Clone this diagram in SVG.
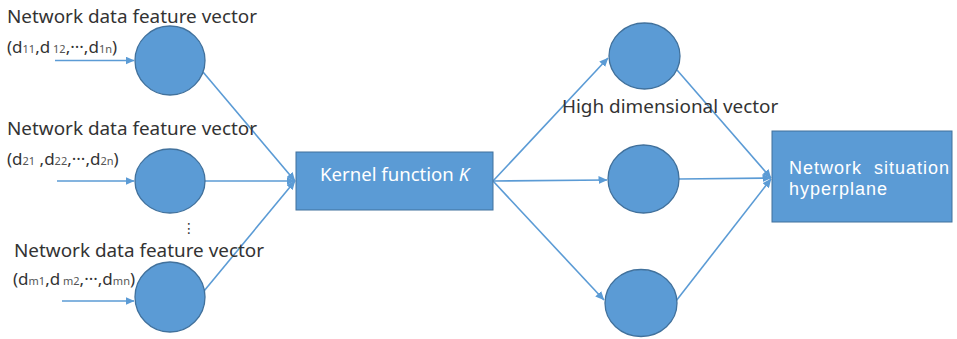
<svg xmlns="http://www.w3.org/2000/svg" width="957" height="339" viewBox="0 0 957 339">
<style>
.node{fill:#5B9BD5;stroke:#41719C;stroke-width:1.3}
.box{fill:#5B9BD5;stroke:#41719C;stroke-width:1}
.lbl{font-family:"Noto Sans","Liberation Sans",sans-serif;font-size:18.9px;fill:#333}
.sub{font-family:"Noto Sans","Liberation Sans",sans-serif;font-size:17px;fill:#333}
.s{font-size:11px;fill:#555}
.wt{font-family:"Noto Sans","Liberation Sans",sans-serif;font-size:18.6px;fill:#fff}
.wt2{font-family:"Liberation Sans",Arial,sans-serif;font-size:18px;letter-spacing:1px;fill:#fff}
.edge{stroke:#5B9BD5;stroke-width:1.6;fill:none;marker-end:url(#ah)}
</style>
<defs>
<marker id="ah" markerWidth="9" markerHeight="8" refX="8.5" refY="4" orient="auto" markerUnits="userSpaceOnUse">
<path d="M0,0 L9,4 L0,8 Z" fill="#5B9BD5"/>
</marker>
</defs>
<rect width="957" height="339" fill="#fff"/>
<g id="connectors">
<line class="edge" x1="55" y1="60.5" x2="134" y2="60.5"/>
<line class="edge" x1="57" y1="181" x2="134" y2="181"/>
<line class="edge" x1="62" y1="301" x2="134" y2="301"/>
<line class="edge" x1="203" y1="72" x2="295" y2="181"/>
<line class="edge" x1="205" y1="181" x2="295" y2="181"/>
<line class="edge" x1="204" y1="291" x2="295" y2="181"/>
<line class="edge" x1="493" y1="181" x2="608" y2="58"/>
<line class="edge" x1="493" y1="181" x2="607" y2="180"/>
<line class="edge" x1="493" y1="181" x2="604" y2="300"/>
<line class="edge" x1="677" y1="70" x2="771" y2="178"/>
<line class="edge" x1="679" y1="179" x2="771" y2="178"/>
<line class="edge" x1="676" y1="301" x2="771" y2="179"/>
</g>
<g id="in1"><ellipse class="node" cx="170" cy="60.5" rx="35" ry="34.5"/></g>
<g id="in2"><ellipse class="node" cx="170" cy="181" rx="35" ry="32"/></g>
<g id="in3"><ellipse class="node" cx="170" cy="297" rx="35" ry="35"/></g>
<g id="kernel">
<rect class="box" x="296" y="152" width="197" height="58"/>
<text class="wt" x="320" y="181">Kernel function <tspan font-style="italic">K</tspan></text>
</g>
<g id="hd1"><ellipse class="node" cx="644.5" cy="56" rx="35.5" ry="33"/></g>
<g id="hd2"><ellipse class="node" cx="643.5" cy="179" rx="35.5" ry="34"/></g>
<g id="hd3"><ellipse class="node" cx="641" cy="303" rx="36" ry="33.5"/></g>
<g id="hyperplane">
<rect class="box" x="772" y="131" width="180" height="91"/>
<text class="wt2" x="789" y="174" xml:space="preserve">Network  situation</text>
<text class="wt2" x="789" y="195">hyperplane</text>
</g>
<g id="labels">
<text class="lbl" x="7" y="23">Network data feature vector</text>
<text class="sub" x="7" y="53">(d<tspan class="s">11</tspan>,d<tspan class="s"> 12</tspan>,···,d<tspan class="s">1n</tspan>)</text>
<text class="lbl" x="7" y="135">Network data feature vector</text>
<text class="sub" x="7" y="165">(d<tspan class="s">21</tspan> ,d<tspan class="s">22</tspan>,···,d<tspan class="s">2n</tspan>)</text>
<text class="lbl" x="14" y="257">Network data feature vector</text>
<text class="sub" x="13" y="285">(d<tspan class="s">m1</tspan>,d<tspan class="s"> m2</tspan>,···,d<tspan class="s">mn</tspan>)</text>
<text x="182" y="233" font-family="DejaVu Sans, sans-serif" font-size="14" fill="#333">⋮</text>
<text class="lbl" x="562" y="113">High dimensional vector</text>
</g>
</svg>
